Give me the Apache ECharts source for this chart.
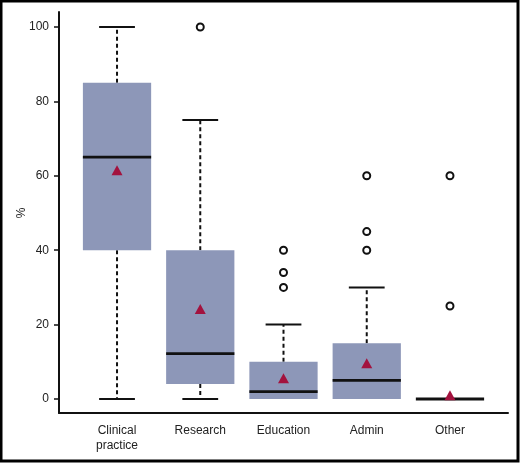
<!DOCTYPE html>
<html>
<head>
<meta charset="utf-8">
<script src="https://cdn.jsdelivr.net/npm/echarts@6/dist/echarts.min.js"></script>
<style>
  html, body { margin: 0; padding: 0; background: #fff; }
  #chart { width: 520px; height: 464px; }
</style>
</head>
<body>
<div id="chart"></div>
<script>
// categories and box statistics
var categories = ['Clinical\npractice', 'Research', 'Education', 'Admin', 'Other'];
var whiskerLow = [0, 0, 0, 0, 0];
var quart1 = [40, 4, 0, 0, 0];
var medians = [65, 12.2, 2, 5, 0];
var quart3 = [85, 40, 10, 15, 0];
var whiskerHigh = [100, 75, 20, 30, 0];
var means = [61.5, 24.2, 5.6, 9.6, 1];
// outliers: [category index, value]
var outliers = [[1, 100], [2, 30], [2, 34], [2, 40], [3, 40], [3, 45], [3, 60], [4, 25], [4, 60]];
var yTicks = { min: 0, max: 100, step: 20 };

var boxData = categories.map(function (c, i) {
    return [i, whiskerLow[i], quart1[i], medians[i], quart3[i], whiskerHigh[i]];
});
var meanData = means.map(function (m, i) { return [i, m]; });

function renderBox(params, api) {
    var x = api.value(0);
    var lo = api.coord([x, api.value(1)]);
    var q1 = api.coord([x, api.value(2)]);
    var md = api.coord([x, api.value(3)]);
    var q3 = api.coord([x, api.value(4)]);
    var hi = api.coord([x, api.value(5)]);
    var band = api.size([1, 0])[0];
    var boxW = band * 0.82, capW = band * 0.43;
    var cx = md[0];
    var kids = [];
    var dash = { stroke: '#111', lineWidth: 2, lineDash: [4, 3] };
    var solid = { stroke: '#111', lineWidth: 2 };

    // dashed whiskers + caps, only where the whisker sticks out of the box
    if (api.value(5) > api.value(4)) {
        kids.push({ type: 'line', shape: { x1: cx, y1: q3[1], x2: cx, y2: hi[1] }, style: dash });
        kids.push({ type: 'line', shape: { x1: cx - capW / 2, y1: hi[1], x2: cx + capW / 2, y2: hi[1] }, style: solid });
    }
    if (api.value(2) > api.value(1)) {
        kids.push({ type: 'line', shape: { x1: cx, y1: q1[1], x2: cx, y2: lo[1] }, style: dash });
        kids.push({ type: 'line', shape: { x1: cx - capW / 2, y1: lo[1], x2: cx + capW / 2, y2: lo[1] }, style: solid });
    }
    // box
    kids.push({ type: 'rect', shape: { x: cx - boxW / 2, y: q3[1], width: boxW, height: q1[1] - q3[1] },
        style: { fill: '#8d97b8' } });
    // median
    kids.push({ type: 'line', shape: { x1: cx - boxW / 2, y1: md[1], x2: cx + boxW / 2, y2: md[1] },
        style: { stroke: '#111', lineWidth: 2.8 } });
    return { type: 'group', children: kids };
}

var myChart = echarts.init(document.getElementById('chart'), null, { renderer: 'canvas' });

var font = 'Liberation Sans, Arial, sans-serif';

var option = {
    animation: false,
    backgroundColor: '#fff',
    graphic: [{
        type: 'rect', shape: { x: 1, y: 1, width: 517, height: 460 },
        style: { fill: null, stroke: '#000', lineWidth: 3 }, silent: true
    }],
    grid: [
        // frame grid: only the two axis lines
        { left: 59, right: 12, top: 12, bottom: 51, outerBoundsMode: 'none' },
        // data grid
        { left: 75.4, right: 28.4, top: 27, bottom: 65, outerBoundsMode: 'none' }
    ],
    xAxis: [
        { gridIndex: 0, type: 'value', min: 0, max: 1,
          axisLine: { show: true, onZero: false, lineStyle: { color: '#111', width: 2 } },
          axisTick: { show: false }, axisLabel: { show: false }, splitLine: { show: false } },
        { gridIndex: 1, type: 'category', data: categories, boundaryGap: true,
          axisLine: { show: false }, axisTick: { show: false }, splitLine: { show: false },
          axisLabel: { margin: 24, fontSize: 12, lineHeight: 15, color: '#222', fontFamily: font } }
    ],
    yAxis: [
        { gridIndex: 0, type: 'value', min: 0, max: 1,
          axisLine: { show: true, onZero: false, lineStyle: { color: '#111', width: 2 } },
          axisTick: { show: false }, axisLabel: { show: false }, splitLine: { show: false } },
        { gridIndex: 1, type: 'value', min: yTicks.min, max: yTicks.max, interval: yTicks.step,
          offset: 16.4,
          name: '%', nameLocation: 'middle', nameGap: 31, nameRotate: 90, nameMoveOverlap: false,
          nameTextStyle: { fontSize: 12, color: '#222', fontFamily: font },
          axisLine: { show: false },
          axisTick: { show: true, length: 5, lineStyle: { color: '#111', width: 1.5 } },
          axisLabel: { margin: 10, fontSize: 12, color: '#222', fontFamily: font },
          splitLine: { show: false } }
    ],
    series: [
        { type: 'custom', xAxisIndex: 1, yAxisIndex: 1, data: boxData, renderItem: renderBox, z: 2,
          encode: { x: 0, y: [1, 2, 3, 4, 5] } },
        { type: 'scatter', xAxisIndex: 1, yAxisIndex: 1, data: outliers, symbol: 'circle', symbolSize: 7,
          itemStyle: { color: '#fff', borderColor: '#111', borderWidth: 2, opacity: 1 }, z: 3 },
        { type: 'scatter', xAxisIndex: 1, yAxisIndex: 1, data: meanData, symbol: 'triangle', symbolSize: [11, 10],
          itemStyle: { color: '#a3123e', opacity: 1 }, z: 4 }
    ]
};

myChart.setOption(option);
</script>
</body>
</html>
